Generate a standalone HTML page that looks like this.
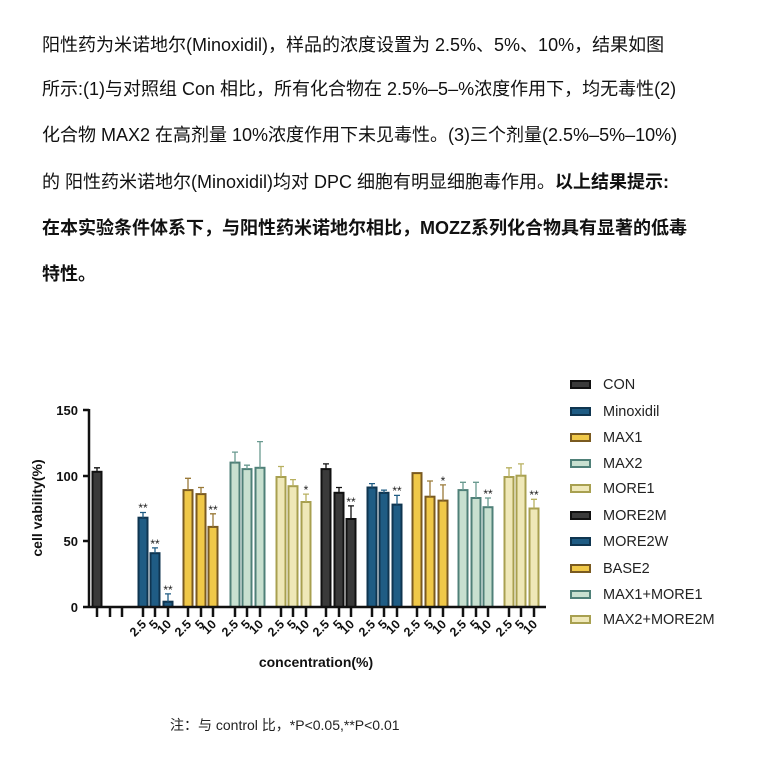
<!DOCTYPE html><html><head><meta charset="utf-8"><style>
body{margin:0;background:#fff;width:766px;height:769px;overflow:hidden;font-family:"Liberation Sans","Noto Sans CJK SC",sans-serif;}
.t{position:absolute;left:42px;font-size:18px;color:#111;white-space:nowrap;line-height:20px}
b{font-weight:bold}
</style></head><body>
<div class="t" style="top:35px">阳性药为米诺地尔(Minoxidil)，样品的浓度设置为 2.5%、5%、10%，结果如图</div>
<div class="t" style="top:79px">所示:(1)与对照组 Con 相比，所有化合物在 2.5%–5–%浓度作用下，均无毒性(2)</div>
<div class="t" style="top:125px">化合物 MAX2 在高剂量 10%浓度作用下未见毒性。(3)三个剂量(2.5%–5%–10%)</div>
<div class="t" style="top:172px">的 阳性药米诺地尔(Minoxidil)均对 DPC 细胞有明显细胞毒作用。<b>以上结果提示:</b></div>
<div class="t" style="top:218px"><b>在本实验条件体系下，与阳性药米诺地尔相比，MOZZ系列化合物具有显著的低毒</b></div>
<div class="t" style="top:264px"><b>特性。</b></div>
<svg width="766" height="769" style="position:absolute;left:0;top:0" font-family="Liberation Sans, sans-serif">
<g stroke-width="2">
<g stroke="#111" fill="#3a3a3a">
<rect x="92.5" y="471.8" width="9" height="135.2"/>
<rect x="321.5" y="469.1" width="9" height="137.9"/><rect x="334.5" y="492.8" width="9" height="114.2"/><rect x="346.5" y="519" width="9" height="88"/>
</g>
<g stroke="#0f3550" fill="#1f5c84">
<rect x="138.5" y="517.7" width="9" height="89.3"/><rect x="150.5" y="553.2" width="9" height="53.8"/><rect x="163.5" y="601.7" width="9" height="5.3"/>
<rect x="367.5" y="487.5" width="9" height="119.5"/><rect x="379.5" y="492.8" width="9" height="114.2"/><rect x="392.5" y="504.6" width="9" height="102.4"/>
</g>
<g stroke="#7a5a20" fill="#f0c848">
<rect x="183.5" y="490.1" width="9" height="116.9"/><rect x="196.5" y="494.1" width="9" height="112.9"/><rect x="208.5" y="526.9" width="9" height="80.1"/>
<rect x="412.5" y="473.1" width="9" height="133.9"/><rect x="425.5" y="496.7" width="9" height="110.3"/><rect x="438.5" y="500.6" width="9" height="106.4"/>
</g>
<g stroke="#4f8078" fill="#c8e0d0">
<rect x="230.5" y="462.6" width="9" height="144.4"/><rect x="242.5" y="469.1" width="9" height="137.9"/><rect x="255.5" y="467.8" width="9" height="139.2"/>
<rect x="458.5" y="490.1" width="9" height="116.9"/><rect x="471.5" y="498" width="9" height="109"/><rect x="483.5" y="507.2" width="9" height="99.8"/>
</g>
<g stroke="#a8a050" fill="#efe8b8">
<rect x="276.5" y="477" width="9" height="130"/><rect x="288.5" y="486.2" width="9" height="120.8"/><rect x="301.5" y="502" width="9" height="105"/>
<rect x="504.5" y="477" width="9" height="130"/><rect x="516.5" y="475.7" width="9" height="131.3"/><rect x="529.5" y="508.5" width="9" height="98.5"/>
</g>
</g>
<g stroke-width="1.3">
<path stroke="#111" d="M97 471.8V467.8M94 467.8H100M326 469.1V463.9M323 463.9H329M339 492.8V487.5M336 487.5H342M351 519V505.9M348 505.9H354"/>
<path stroke="#1f5c84" d="M143 517.7V512.5M140 512.5H146M155 553.2V547.9M152 547.9H158M168 601.7V593.9M165 593.9H171M372 487.5V483.6M369 483.6H375M384 492.8V490.1M381 490.1H387M397 504.6V495.4M394 495.4H400"/>
<path stroke="#9a7a38" d="M188 490.1V478.3M185 478.3H191M201 494.1V487.5M198 487.5H204M213 526.9V513.8M210 513.8H216M430 496.7V481M427 481H433M443 500.6V484.9M440 484.9H446"/>
<path stroke="#6a9a90" d="M235 462.6V452.1M232 452.1H238M247 469.1V465.2M244 465.2H250M260 467.8V441.6M257 441.6H263M463 490.1V482.3M460 482.3H466M476 498V482.3M473 482.3H479M488 507.2V498M485 498H491"/>
<path stroke="#b8b060" d="M281 477V466.5M278 466.5H284M293 486.2V479.6M290 479.6H296M306 502V494.1M303 494.1H309M509 477V467.8M506 467.8H512M521 475.7V463.9M518 463.9H524M534 508.5V499.3M531 499.3H537"/>
</g>
<g font-size="12" text-anchor="middle" fill="#222">
<text x="143" y="512">**</text><text x="155" y="548">**</text><text x="168" y="594">**</text>
<text x="213" y="514">**</text><text x="306" y="494">*</text><text x="351" y="506">**</text>
<text x="397" y="495">**</text><text x="443" y="485">*</text><text x="488" y="498">**</text><text x="534" y="499">**</text>
</g>
<g stroke="#111" stroke-width="2.5" fill="none">
<path d="M89 409V608M83 410H89M83 476H89M83 541H89M83 607H89M88 607H546"/>
<path d="M97 607v10M110 607v10M122 607v10M143 607v10M155 607v10M168 607v10M188 607v10M201 607v10M213 607v10M235 607v10M247 607v10M260 607v10M281 607v10M293 607v10M306 607v10M326 607v10M339 607v10M351 607v10M372 607v10M384 607v10M397 607v10M417 607v10M430 607v10M443 607v10M463 607v10M476 607v10M488 607v10M509 607v10M521 607v10M534 607v10"/>
</g>
<g font-size="13" font-weight="bold" text-anchor="end" fill="#111">
<text x="78" y="415">150</text><text x="78" y="481">100</text><text x="78" y="546">50</text><text x="78" y="612">0</text>
</g>
<g font-size="12.5" font-weight="bold" text-anchor="end" fill="#111">
<text transform="translate(147,625) rotate(-45)">2.5</text><text transform="translate(159,625) rotate(-45)">5</text><text transform="translate(172,625) rotate(-45)">10</text>
<text transform="translate(192,625) rotate(-45)">2.5</text><text transform="translate(205,625) rotate(-45)">5</text><text transform="translate(217,625) rotate(-45)">10</text>
<text transform="translate(239,625) rotate(-45)">2.5</text><text transform="translate(251,625) rotate(-45)">5</text><text transform="translate(264,625) rotate(-45)">10</text>
<text transform="translate(285,625) rotate(-45)">2.5</text><text transform="translate(297,625) rotate(-45)">5</text><text transform="translate(310,625) rotate(-45)">10</text>
<text transform="translate(330,625) rotate(-45)">2.5</text><text transform="translate(343,625) rotate(-45)">5</text><text transform="translate(355,625) rotate(-45)">10</text>
<text transform="translate(376,625) rotate(-45)">2.5</text><text transform="translate(388,625) rotate(-45)">5</text><text transform="translate(401,625) rotate(-45)">10</text>
<text transform="translate(421,625) rotate(-45)">2.5</text><text transform="translate(434,625) rotate(-45)">5</text><text transform="translate(447,625) rotate(-45)">10</text>
<text transform="translate(467,625) rotate(-45)">2.5</text><text transform="translate(480,625) rotate(-45)">5</text><text transform="translate(492,625) rotate(-45)">10</text>
<text transform="translate(513,625) rotate(-45)">2.5</text><text transform="translate(525,625) rotate(-45)">5</text><text transform="translate(538,625) rotate(-45)">10</text>
</g>
<text x="316" y="667" font-size="14" font-weight="bold" text-anchor="middle" fill="#111">concentration(%)</text>
<text transform="translate(42,508) rotate(-90)" font-size="14" font-weight="bold" text-anchor="middle" fill="#111">cell vability(%)</text>
<g stroke-width="2">
<rect x="571" y="381" width="19" height="7" stroke="#111" fill="#3a3a3a"/>
<rect x="571" y="408" width="19" height="7" stroke="#0f3550" fill="#1f5c84"/>
<rect x="571" y="434" width="19" height="7" stroke="#7a5a20" fill="#f0c848"/>
<rect x="571" y="460" width="19" height="7" stroke="#4f8078" fill="#c8e0d0"/>
<rect x="571" y="485" width="19" height="7" stroke="#a8a050" fill="#efe8b8"/>
<rect x="571" y="512" width="19" height="7" stroke="#111" fill="#3a3a3a"/>
<rect x="571" y="538" width="19" height="7" stroke="#0f3550" fill="#1f5c84"/>
<rect x="571" y="565" width="19" height="7" stroke="#7a5a20" fill="#f0c848"/>
<rect x="571" y="591" width="19" height="7" stroke="#4f8078" fill="#c8e0d0"/>
<rect x="571" y="616" width="19" height="7" stroke="#a8a050" fill="#efe8b8"/>
</g>
<g font-size="14.5" fill="#222">
<text x="603" y="389">CON</text><text x="603" y="416">Minoxidil</text><text x="603" y="442">MAX1</text><text x="603" y="468">MAX2</text><text x="603" y="493">MORE1</text>
<text x="603" y="520">MORE2M</text><text x="603" y="546">MORE2W</text><text x="603" y="573">BASE2</text><text x="603" y="599">MAX1+MORE1</text><text x="603" y="624">MAX2+MORE2M</text>
</g>
<text x="170" y="730" font-size="14" fill="#222" font-family="Liberation Sans, Noto Sans CJK SC, sans-serif">注：与 control 比，*P&lt;0.05,**P&lt;0.01</text>
</svg>
</body></html>
